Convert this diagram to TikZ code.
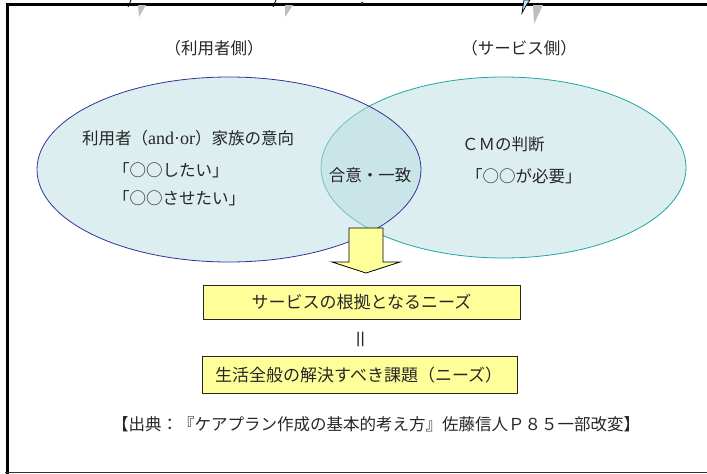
\documentclass[tikz,border=0pt]{standalone}
\usepackage{fontspec}
\setmainfont{Noto Sans CJK JP}
\newfontfamily\latinserif{Liberation Serif}
\usetikzlibrary{shapes.geometric}
\definecolor{ellfill}{RGB}{220,238,240}
\definecolor{ellfillB}{RGB}{185,221,225}
\definecolor{navyline}{RGB}{51,51,153}
\definecolor{tealline}{RGB}{32,165,165}
\definecolor{boxyellow}{RGB}{255,255,153}
\definecolor{shadowgrey}{RGB}{190,190,190}
\definecolor{boltcyan}{RGB}{190,240,250}
\tikzset{
  txt/.style={inner sep=0pt, text=black!85, font=\fontsize{16.5}{19}\selectfont},
  boxtxt/.style={txt, font=\fontsize{17}{19}\selectfont},
  vennR/.style={ellipse, draw=tealline, line width=0.8pt, fill=ellfill, inner sep=0pt},
  vennL/.style={ellipse, fill=ellfillB, fill opacity=0.5, inner sep=0pt},
  ybox/.style={draw=black!85, line width=0.9pt, fill=boxyellow, inner sep=0pt},
  blockarrow/.style={draw=black, line width=0.8pt, fill=boxyellow, line join=miter},
}
\begin{document}
\begin{tikzpicture}[x=1pt,y=-1pt]
\useasboundingbox (0,0) rectangle (707,474);
% frame
\draw[line width=3pt] (7,474) -- (7,4) -- (707,4);
\draw[line width=1pt, black!80] (5,472.5) -- (707,472.5);
% cut-off fragments at top
\fill[shadowgrey] (138,5) -- (146,5) -- (139,17) -- cycle;
\draw[line width=0.8pt] (131,0) -- (128,7);
\fill[shadowgrey] (285,5) -- (293,5) -- (285,17) -- cycle;
\draw[line width=0.8pt] (276,0) -- (273,7);
\fill[black!80] (362,3) circle[radius=1.5pt];
\fill[shadowgrey] (533,5) -- (543,5) -- (534,24) -- cycle;
\filldraw[fill=boltcyan, draw=black, line width=0.7pt] (524,0) -- (530,0) -- (527,4) -- (522,13) -- cycle;
% headings
\node[txt] (hl) at (214,48) {（利用者側）};
\node[txt] (hr) at (519,48) {（サービス側）};
% Venn ellipses
\node[vennR, minimum width=365pt, minimum height=181pt] (R) at (503.5,167.5) {};
\node[vennL, minimum width=384pt, minimum height=185pt] (L) at (229,169.5) {};
\draw[navyline, line width=0.8pt] (L.center) ellipse [x radius=192pt, y radius=92.5pt];
% ellipse texts
\node[txt, anchor=west] (u1) at (82,138) {利用者（{\latinserif\fontsize{18}{19}\selectfont and·or}）家族の意向};
\node[txt, anchor=west] (u2) at (113,170) {「○○したい」};
\node[txt, anchor=west] (u3) at (113,198) {「○○させたい」};
\node[txt] (agree) at (370,175) {合意・一致};
\node[txt, anchor=west] (cm1) at (462,144) {ＣＭの判断};
\node[txt, anchor=west] (cm2) at (466,176) {「○○が必要」};
% block arrow
\draw[blockarrow] (349,228) -- (383,228) -- (383,262) -- (400,262) -- (366,273) -- (332,262) -- (349,262) -- cycle;
\coordinate (arrowtip) at (366,273);
% boxes
\node[ybox, minimum width=317pt, minimum height=34pt] (b1) at (361.5,302) {};
\node[boxtxt] at (b1.center) {サービスの根拠となるニーズ};
\node[txt, rotate=90, font=\fontsize{20}{20}\selectfont] (eq) at (363,339) {＝};
\node[ybox, minimum width=315pt, minimum height=37pt] (b2) at (359.5,374.5) {};
\node[boxtxt, anchor=west] at (215,375) {生活全般の解決すべき課題（ニーズ）};
% source
\node[txt] (src) at (376,424) {【出典：『ケアプラン作成の基本的考え方』佐藤信人Ｐ８５一部改変】};
\end{tikzpicture}
\end{document}
